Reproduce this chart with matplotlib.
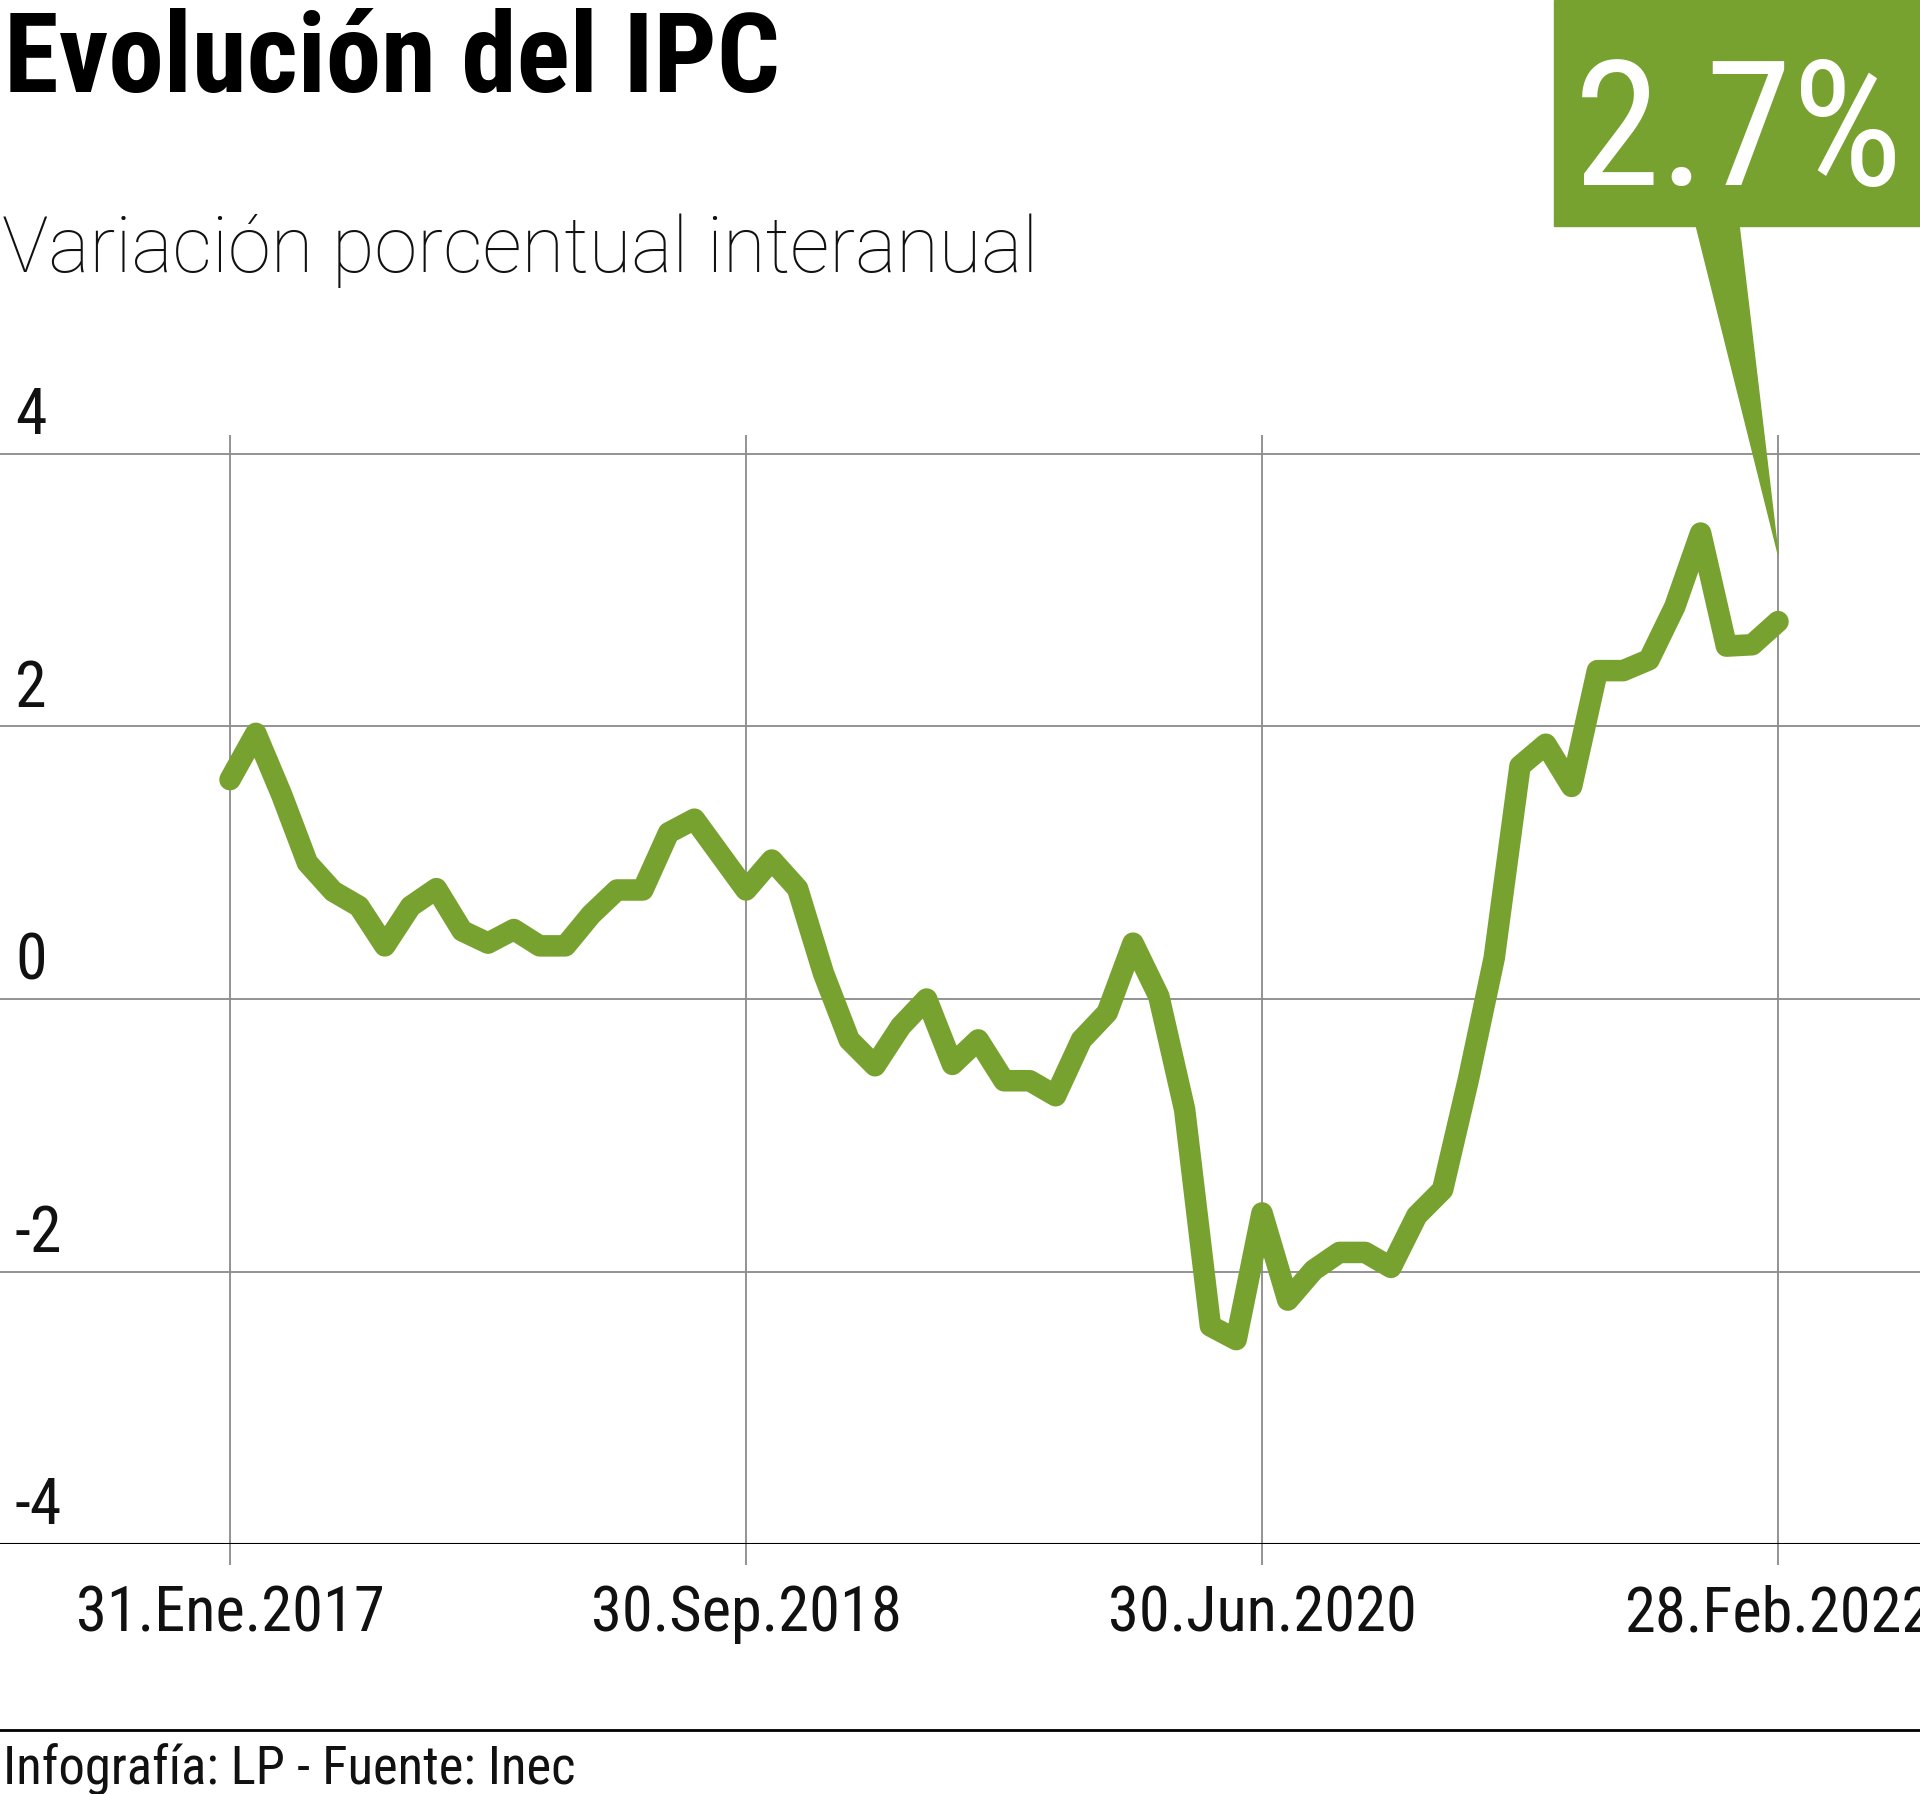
import matplotlib
matplotlib.use("Agg")
import matplotlib.pyplot as plt
from matplotlib.patches import Rectangle, Polygon
from matplotlib.lines import Line2D
import numpy as np

# monthly year-on-year CPI variation (%)
ipc = [1.61, 1.95, 1.50, 1.00, 0.79, 0.68, 0.39, 0.68, 0.81, 0.50,
       0.41, 0.51, 0.39, 0.39, 0.62, 0.80, 0.80, 1.22, 1.32, 1.06,
       0.80, 1.02, 0.81, 0.19, -0.30, -0.49, -0.20, 0.00, -0.48, -0.30,
       -0.60, -0.60, -0.71, -0.30, -0.10, 0.41, 0.02, -0.81, -2.40, -2.50,
       -1.57, -2.21, -1.99, -1.86, -1.86, -1.97, -1.59, -1.40, -0.59, 0.30,
       1.71, 1.87, 1.56, 2.41, 2.41, 2.49, 2.88, 3.42, 2.59, 2.60,
       2.77]
tick_idx = [0, 20, 40, 60]
tick_labels = ["31.Ene.2017", "30.Sep.2018", "30.Jun.2020", "28.Feb.2022"]
y_ticks = [4, 2, 0, -2, -4]
callout_label = "2.7%"

title = "Evolución del IPC"
subtitle = "Variación porcentual interanual"
footer = "Infografía: LP - Fuente: Inec"

green = "#78a22f"
grid_color = "#8a8a8a"
narrow = ["Roboto Condensed", "Liberation Sans Narrow", "DejaVu Sans"]

W, H = 1920, 1794


def fx(px):
    return px / W


def fy(py):
    return 1 - py / H


fig = plt.figure(figsize=(W / 100, H / 100), dpi=100)

# axes placed so that the index 0 .. 60 span x=230..1778 px, y=4..-4 span 454..1544 px
ax = fig.add_axes([0, fy(1544), 1, (1544 - 435) / H])
ax.set_xlim(-230 / 25.8, 60 + (W - 1778) / 25.8)
ax.set_ylim(-4, 4 + (454 - 435) / 136.25)
for s in ax.spines.values():
    s.set_visible(False)
ax.set_yticks([])

x = np.arange(len(ipc))

# grid
for v in y_ticks:
    if v == -4:
        ax.axhline(v, color="black", lw=1.5, zorder=2)
    else:
        ax.axhline(v, color=grid_color, lw=1.3, zorder=1)
    ax.text(15 / W, v + 0.05, str(v), transform=ax.get_yaxis_transform(),
            fontsize=46, family=narrow, fontstretch="condensed",
            ha="left", va="bottom", color="#111111")

ax.vlines(tick_idx, -4 - 21 / 136.25, ax.get_ylim()[1], color=grid_color,
          lw=1.3, zorder=1, clip_on=False)
ax.set_xticks(tick_idx)
ax.set_xticklabels(tick_labels, fontsize=45, family=narrow,
                   fontstretch="condensed", color="#111111")
ax.tick_params(axis="x", length=0, pad=29)

# main line
ax.plot(x, ipc, color=green, lw=15.5, solid_capstyle="round",
        solid_joinstyle="round", zorder=3, clip_on=False)

# callout box with pointer to the last value
fig.patches.append(Rectangle((fx(1554), fy(226)), fx(W - 1554), 226 / H,
                             transform=fig.transFigure, color=green, zorder=5))
tip_px = ax.transData.transform((x[-1], ipc[-1]))
tip_px = (tip_px[0], tip_px[1] + 68)
tip = fig.transFigure.inverted().transform(tip_px)
fig.patches.append(Polygon([(fx(1696), fy(225)), (fx(1739), fy(225)), tuple(tip)],
                           closed=True, transform=fig.transFigure,
                           color=green, zorder=5))
fig.text(fx(1739), fy(185), callout_label, fontsize=126, family=narrow,
         fontstretch="condensed", color="white", ha="center", va="baseline",
         zorder=6)

# titles
fig.text(fx(4), fy(92), title, fontsize=80, fontweight="bold", family=narrow,
         fontstretch="condensed", ha="left", va="baseline", color="black")
fig.text(fx(2), fy(272), subtitle, fontsize=56, fontweight="light",
         family=["Roboto", "DejaVu Sans"], ha="left", va="baseline", color="#111111")

# footer
fig.lines.append(Line2D([0, 1], [fy(1730), fy(1730)], transform=fig.transFigure,
                        color="black", lw=2))
fig.text(fx(3), fy(1784), footer, fontsize=38, family=narrow,
         fontstretch="condensed", ha="left", va="baseline", color="#111111")

fig.savefig("out.png", dpi=100, facecolor="white")
